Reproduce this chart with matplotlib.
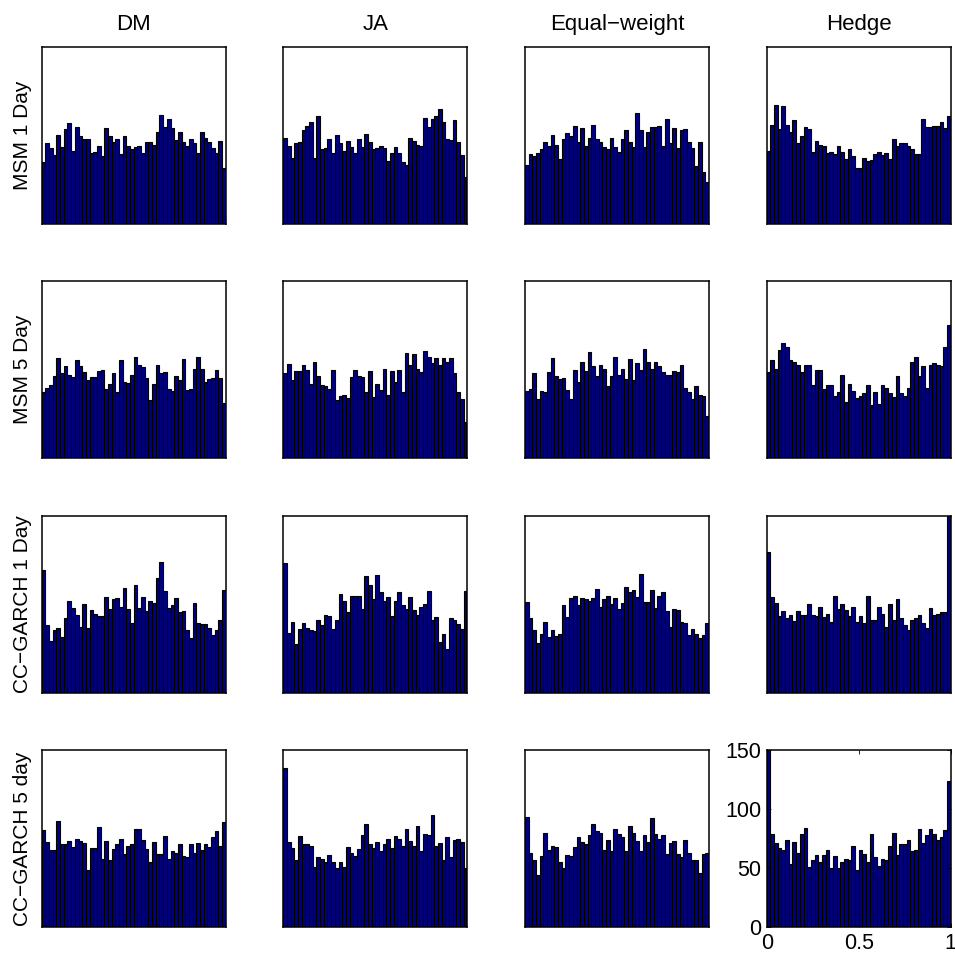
import numpy as np
import matplotlib
matplotlib.use("Agg")
import matplotlib.pyplot as plt

plt.rcParams['font.family'] = ['Liberation Sans', 'DejaVu Sans']

col_titles = ["DM", "JA", "Equal\u2212weight", "Hedge"]
row_titles = ["MSM 1 Day", "MSM 5 Day", "CC\u2212GARCH 1 Day", "CC\u2212GARCH 5 day"]

msm1_dm = [52,68,64,58,75,65,80,85,62,82,74,72,72,60,61,66,57,81,74,69,72,59,74,66,63,
           65,66,60,69,69,67,78,92,82,89,81,71,78,69,66,72,68,60,78,73,69,64,60,70,47]
msm1_ja = [73,66,56,68,69,79,83,86,56,91,63,64,72,60,75,68,62,70,65,60,72,65,76,69,63,
           64,66,64,53,60,65,60,52,50,73,70,67,66,90,82,89,91,97,86,72,71,88,69,58,40]
msm1_eq = [50,59,57,60,63,69,66,75,67,55,72,77,74,83,69,81,66,73,84,72,69,65,63,73,65,
           61,72,79,69,65,94,79,65,78,82,82,83,66,89,68,81,64,79,80,69,64,49,69,44,35]
msm1_he = [62,84,101,80,100,84,78,88,68,74,82,80,61,70,67,66,60,61,59,66,61,55,63,57,47,
           47,56,53,54,59,61,58,60,55,72,66,68,68,66,63,59,59,89,82,82,83,83,86,81,91]

msm5_dm = [56,60,62,70,85,72,78,71,69,83,78,73,66,69,69,74,75,59,63,72,56,83,65,64,71,
           86,79,77,68,49,63,79,72,73,59,57,70,66,84,58,59,76,86,76,65,67,68,75,68,47]
msm5_ja = [72,80,66,74,74,79,75,63,82,70,62,61,59,75,49,53,54,51,69,75,70,69,56,74,52,
           63,58,76,54,74,65,75,56,89,79,88,76,73,91,86,81,85,79,85,82,85,72,56,50,31]
msm5_eq = [57,59,72,50,57,56,73,85,70,67,68,58,50,75,65,82,74,90,78,70,79,76,61,70,86,
           71,76,67,84,66,81,75,93,82,76,82,78,73,71,71,74,73,79,60,56,50,61,54,53,36]
msm5_he = [73,83,76,92,98,94,83,82,79,73,79,79,62,75,75,59,62,62,53,56,71,48,63,57,51,
           53,55,62,45,56,46,62,60,55,52,70,55,53,60,82,86,70,78,60,79,81,79,78,94,113]

cc1_dm = [104,57,44,53,55,47,63,78,72,66,56,75,55,70,67,65,65,81,71,79,80,73,89,71,59,
          91,72,81,69,78,76,97,111,86,72,74,80,68,69,53,46,76,59,58,58,55,49,53,62,87]
cc1_ja = [110,51,60,41,54,59,55,53,52,62,57,66,65,54,62,84,78,68,82,82,82,71,99,91,79,
          100,85,78,81,65,78,85,74,71,81,70,66,73,75,86,62,64,43,50,37,63,62,58,54,86]
cc1_eq = [77,63,53,42,50,60,47,53,48,50,74,64,80,82,74,80,79,78,80,88,73,79,82,75,80,
          71,76,90,85,87,81,101,77,77,87,72,82,85,69,56,71,70,60,59,49,54,50,46,49,59]
cc1_he = [119,81,76,65,69,63,66,61,69,66,66,75,66,65,73,64,67,60,82,71,75,70,65,73,60,
          65,59,82,62,62,73,67,56,75,62,79,63,57,53,62,63,66,59,55,72,66,67,68,68,155]

cc5_dm = [82,72,65,65,90,70,70,73,68,75,73,71,48,67,67,85,58,73,57,66,70,75,62,69,70,
          83,83,74,66,55,72,62,62,77,58,64,63,70,60,59,70,63,71,65,70,68,76,81,69,89]
cc5_ja = [135,72,67,57,77,70,70,69,51,59,58,55,61,55,50,55,51,68,63,60,66,78,87,70,67,
          72,64,70,75,67,77,75,69,83,73,69,86,64,79,78,95,69,71,57,76,59,74,75,72,50]
cc5_eq = [93,63,57,44,60,80,65,69,68,55,50,61,60,68,76,72,70,78,87,81,80,65,74,64,83,
          79,76,64,86,80,73,64,78,72,92,79,75,78,62,71,73,62,59,74,63,57,57,46,62,63]
cc5_he = [155,79,71,67,65,74,53,72,63,79,84,51,57,61,55,61,65,50,60,50,55,58,57,69,48,
          65,62,55,79,59,52,58,57,69,80,61,70,70,74,64,65,83,71,78,83,79,74,76,82,124]

data = [
    [msm1_dm, msm1_ja, msm1_eq, msm1_he],
    [msm5_dm, msm5_ja, msm5_eq, msm5_he],
    [cc1_dm, cc1_ja, cc1_eq, cc1_he],
    [cc5_dm, cc5_ja, cc5_eq, cc5_he],
]

W, H = 955, 961
fig = plt.figure(figsize=(W / 100, H / 100), dpi=100)

col_left = [41.7, 283.3, 525.0, 766.7]
row_top = [46.7, 281.3, 515.7, 750.0]
aw, ah = 184.0, 177.0

bar_color = (0, 0, 0.5)

for r in range(4):
    for c in range(4):
        ax = fig.add_axes([col_left[c] / W, 1 - (row_top[r] + ah) / H, aw / W, ah / H])
        vals = np.array(data[r][c], dtype=float)
        n = len(vals)
        edges = np.linspace(0, 1, n + 1)
        ax.bar(edges[:-1], vals, width=1.0 / n, align='edge',
               color=bar_color, edgecolor='black', linewidth=0.8)
        ax.set_xlim(0, 1)
        ax.set_ylim(0, 150)
        for s in ax.spines.values():
            s.set_linewidth(1.1)
            s.set_color('black')
        if r == 3 and c == 3:
            ax.set_xticks([0, 0.5, 1])
            ax.set_xticklabels(["0", "0.5", "1"])
            ax.set_yticks([0, 50, 100, 150])
            ax.tick_params(direction='in', top=True, right=True, length=3,
                           labelsize=15.5, pad=4, width=0.6)
        else:
            ax.set_xticks([])
            ax.set_yticks([])
        if r == 0:
            ax.set_title(col_titles[c], fontsize=16, pad=12)
        if c == 0:
            ax.set_ylabel(row_titles[r], fontsize=15, labelpad=7)

fig.savefig("out.png", dpi=100)
